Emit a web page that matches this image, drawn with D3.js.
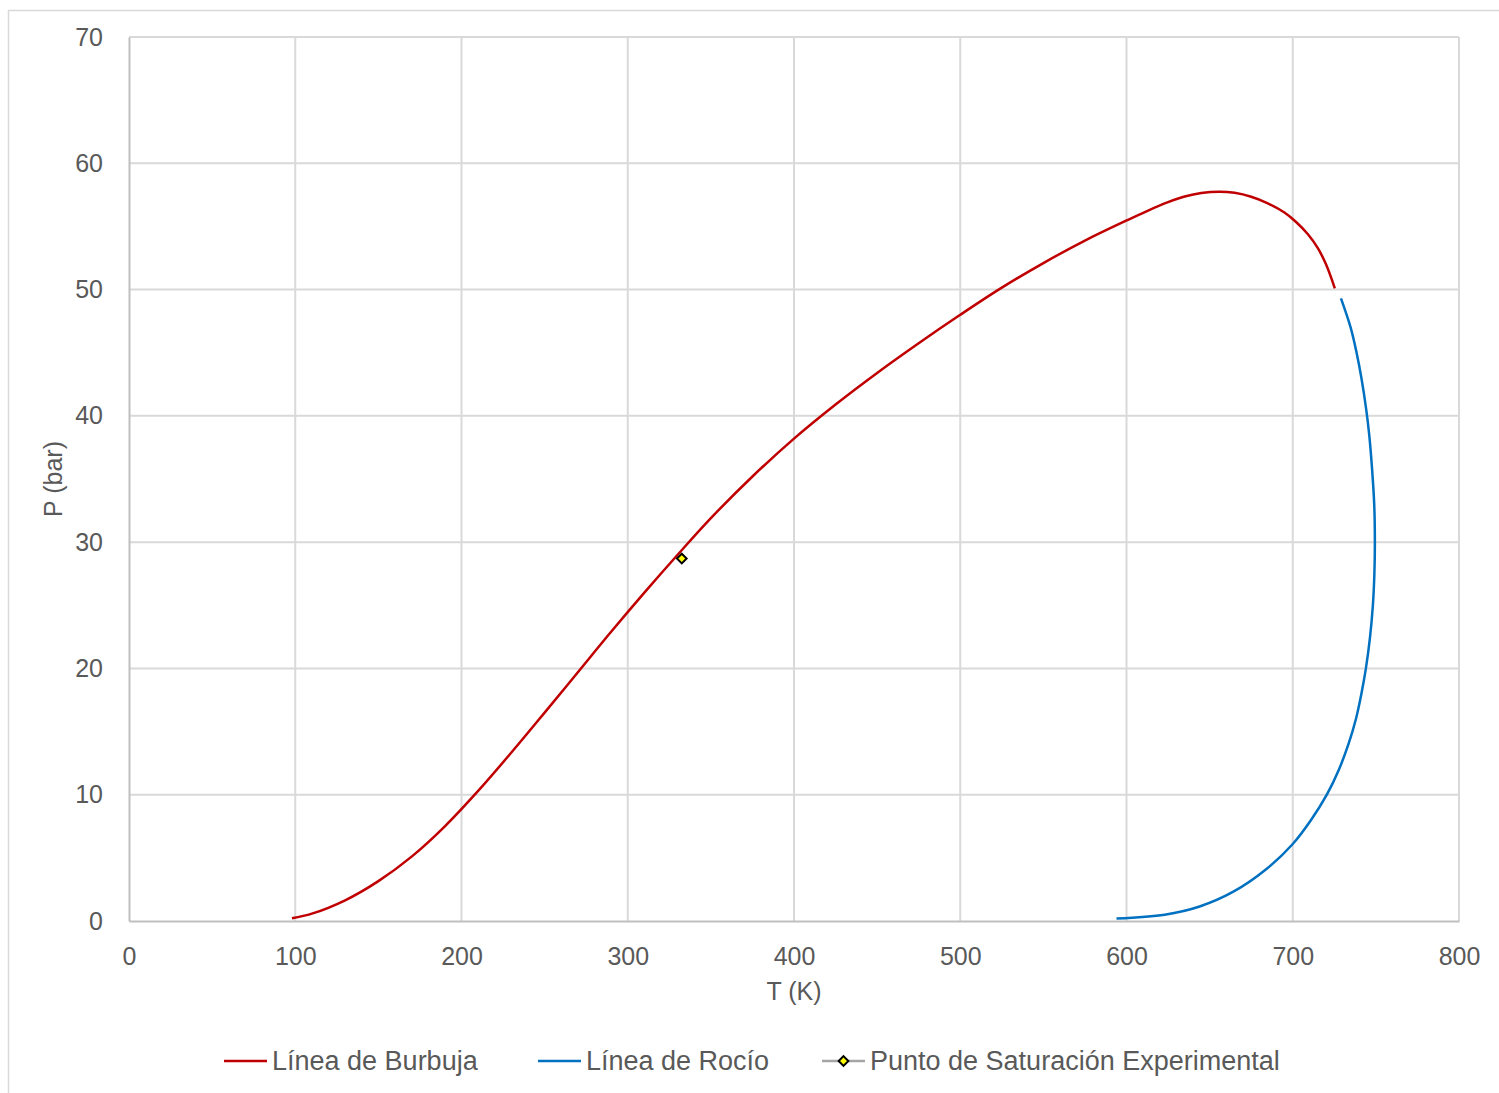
<!DOCTYPE html>
<html>
<head>
<meta charset="utf-8">
<script src="https://cdn.jsdelivr.net/npm/d3@7"></script>
<style>
  html, body { margin: 0; padding: 0; background: #ffffff; }
  svg { display: block; }
  text { font-family: "Liberation Sans", Arial, sans-serif; fill: #595959; }
</style>
</head>
<body>
<svg id="chart" width="1499" height="1093"></svg>
<script>
// Bubble-point curve: temperature (K) and pressure (bar)
const bubbleT = [98, 110, 130, 150, 170, 190, 210, 230, 250, 270, 290, 310, 330, 350, 375, 400, 425, 450, 475, 500, 525, 550, 575, 600, 612, 625, 635, 645, 656, 665, 675, 685, 695, 702, 709, 715, 720, 725.3];
const bubbleP = [0.22, 0.58, 1.64, 3.16, 5.1, 7.5, 10.3, 13.34, 16.5, 19.7, 22.9, 26.0, 29.0, 31.9, 35.2, 38.2, 40.9, 43.4, 45.75, 48.0, 50.15, 52.1, 53.88, 55.47, 56.2, 56.92, 57.37, 57.65, 57.75, 57.66, 57.35, 56.83, 56.1, 55.35, 54.4, 53.3, 52.0, 50.1];

// Dew-point curve: temperature (K) and pressure (bar)
const dewT = [594, 623, 644, 664, 684, 700, 711, 720.5, 727.8, 733.5, 738, 741.3, 744, 746.5, 748.2, 749.1, 749.4, 749, 747.6, 746, 744.2, 741.3, 738.4, 734.8, 729];
const dewP = [0.2, 0.5, 1.15, 2.3, 4.1, 6.1, 8.0, 10, 12, 14, 16, 18, 20, 22.5, 25, 27.5, 30, 33, 36, 38.5, 40.5, 43, 45, 47, 49.3];

// Experimental saturation point
const expT = [332.5];
const expP = [28.7];

// Axis ticks
const xTicks = [0, 100, 200, 300, 400, 500, 600, 700, 800];
const yTicks = [0, 10, 20, 30, 40, 50, 60, 70];

// Legend entries
const legendLabels = ["Línea de Burbuja", "Línea de Rocío", "Punto de Saturación Experimental"];

const svg = d3.select("#chart");

// Outer chart frame
svg.append("rect")
  .attr("x", 8.5).attr("y", 10.5)
  .attr("width", 1520).attr("height", 1120)
  .attr("fill", "none").attr("stroke", "#d9d9d9").attr("stroke-width", 1.5);

const plotLeft = 129, plotRight = 1459, plotTop = 37, plotBottom = 921;
const x = d3.scaleLinear().domain([0, 800]).range([plotLeft, plotRight]);
const y = d3.scaleLinear().domain([0, 70]).range([plotBottom, plotTop]);

// Gridlines
const grid = svg.append("g");
grid.selectAll("line.v").data(xTicks.filter(d => d > 0)).join("line")
  .attr("class", "v")
  .attr("x1", d => x(d)).attr("x2", d => x(d))
  .attr("y1", plotTop).attr("y2", plotBottom)
  .attr("stroke", "#d9d9d9").attr("stroke-width", 2);
grid.selectAll("line.h").data(yTicks.filter(d => d > 0)).join("line")
  .attr("class", "h")
  .attr("x1", plotLeft).attr("x2", plotRight)
  .attr("y1", d => y(d)).attr("y2", d => y(d))
  .attr("stroke", "#d9d9d9").attr("stroke-width", 2);

// Axes
const xAxis = svg.append("g")
  .attr("transform", `translate(0,${plotBottom})`)
  .call(d3.axisBottom(x).tickValues(xTicks).tickSize(0).tickPadding(26).tickFormat(d3.format("d")));
const yAxis = svg.append("g")
  .attr("transform", `translate(${plotLeft},0)`)
  .call(d3.axisLeft(y).tickValues(yTicks).tickSize(0).tickPadding(26).tickFormat(d3.format("d")));
[xAxis, yAxis].forEach(g => {
  g.select(".domain").attr("stroke", "#bfbfbf").attr("stroke-width", 2);
  g.selectAll("text").attr("font-size", 25).attr("fill", "#595959")
    .attr("font-family", "'Liberation Sans', Arial, sans-serif");
});

// Axis titles
svg.append("text")
  .attr("x", x(400)).attr("y", 1000)
  .attr("text-anchor", "middle").attr("font-size", 25)
  .text("T (K)");
svg.append("text")
  .attr("transform", `translate(62,${(plotTop + plotBottom) / 2}) rotate(-90)`)
  .attr("text-anchor", "middle").attr("font-size", 25)
  .text("P (bar)");

// Curves
const line = d3.line().x(d => x(d[0])).y(d => y(d[1])).curve(d3.curveCatmullRom.alpha(0.5));
const bubble = bubbleT.map((t, i) => [t, bubbleP[i]]);
const dew = dewT.map((t, i) => [t, dewP[i]]);

svg.append("path").datum(bubble).attr("d", line)
  .attr("fill", "none").attr("stroke", "#c00000").attr("stroke-width", 2.5);
svg.append("path").datum(dew).attr("d", line)
  .attr("fill", "none").attr("stroke", "#0070c0").attr("stroke-width", 2.5);

// Experimental point
const diamond = d3.symbol().type(d3.symbolDiamond2).size(60);
svg.selectAll("path.exp").data(expT.map((t, i) => [t, expP[i]])).join("path")
  .attr("class", "exp")
  .attr("transform", d => `translate(${x(d[0])},${y(d[1])})`)
  .attr("d", diamond)
  .attr("fill", "#ffff00").attr("stroke", "#000000").attr("stroke-width", 2);

// Legend
const legendY = 1061;
const legendItems = [
  { x: 224, color: "#c00000", marker: false },
  { x: 538, color: "#0070c0", marker: false },
  { x: 822, color: "#a5a5a5", marker: true }
];
const lg = svg.append("g");
legendItems.forEach((item, i) => {
  lg.append("line")
    .attr("x1", item.x).attr("x2", item.x + 43)
    .attr("y1", legendY).attr("y2", legendY)
    .attr("stroke", item.color).attr("stroke-width", 2.5);
  if (item.marker) {
    lg.append("path")
      .attr("transform", `translate(${item.x + 21.5},${legendY})`)
      .attr("d", diamond)
      .attr("fill", "#ffff00").attr("stroke", "#000000").attr("stroke-width", 2);
  }
  lg.append("text")
    .attr("x", item.x + 48).attr("y", legendY)
    .attr("dy", "0.35em").attr("font-size", 27)
    .text(legendLabels[i]);
});
</script>
</body>
</html>
